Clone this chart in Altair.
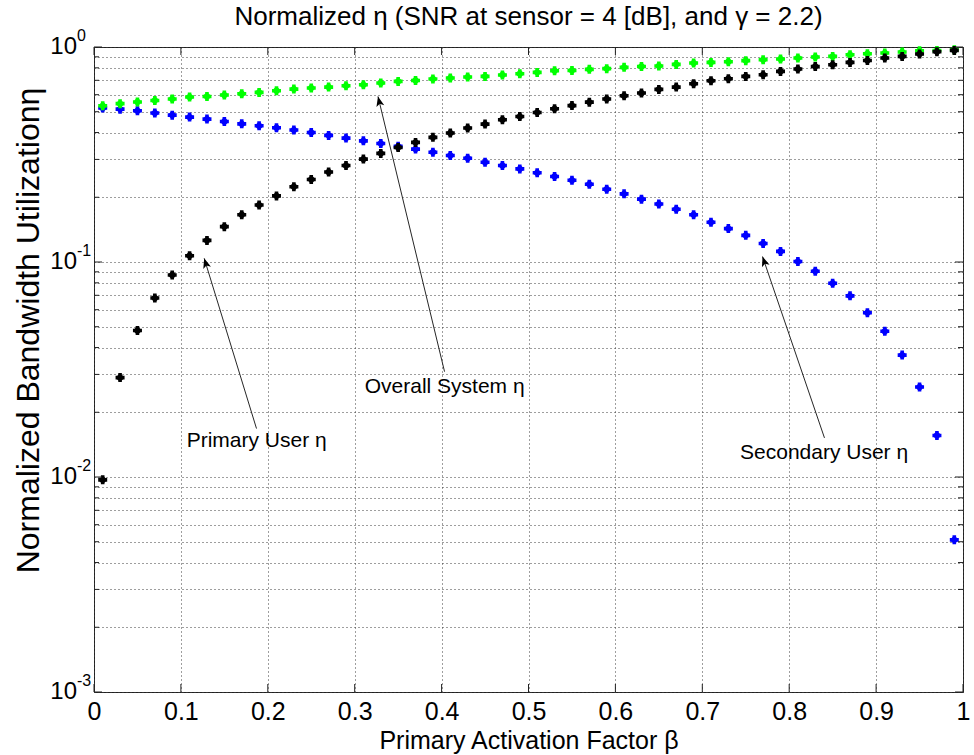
import math
import pandas as pd
import altair as alt

W, H = 869, 645
FONT = "Liberation Sans"

beta = [0.01, 0.03, 0.05, 0.07, 0.09, 0.11, 0.13, 0.15, 0.17, 0.19,
        0.21, 0.23, 0.25, 0.27, 0.29, 0.31, 0.33, 0.35, 0.37, 0.39,
        0.41, 0.43, 0.45, 0.47, 0.49, 0.51, 0.53, 0.55, 0.57, 0.59,
        0.61, 0.63, 0.65, 0.67, 0.69, 0.71, 0.73, 0.75, 0.77, 0.79,
        0.81, 0.83, 0.85, 0.87, 0.89, 0.91, 0.93, 0.95, 0.97, 0.99]

primary = [0.0097, 0.029, 0.048, 0.068, 0.087, 0.107, 0.126, 0.146, 0.166, 0.184,
           0.203, 0.224, 0.242, 0.262, 0.281, 0.301, 0.320, 0.341, 0.360, 0.380,
           0.398, 0.420, 0.438, 0.459, 0.475, 0.496, 0.516, 0.534, 0.554, 0.573,
           0.593, 0.611, 0.635, 0.651, 0.675, 0.697, 0.712, 0.730, 0.743, 0.770,
           0.790, 0.812, 0.827, 0.848, 0.866, 0.889, 0.904, 0.928, 0.951, 0.964]

secondary = [0.520, 0.514, 0.505, 0.493, 0.482, 0.472, 0.462, 0.450, 0.439, 0.430,
             0.421, 0.411, 0.400, 0.388, 0.377, 0.366, 0.356, 0.345, 0.335, 0.324,
             0.313, 0.304, 0.291, 0.281, 0.271, 0.260, 0.250, 0.240, 0.230, 0.218,
             0.2075, 0.196, 0.186, 0.176, 0.166, 0.153, 0.143, 0.133, 0.122, 0.112,
             0.1005, 0.0906, 0.0796, 0.0696, 0.0581, 0.0476, 0.0369, 0.0262, 0.0156, 0.0051]

overall = [0.533, 0.545, 0.555, 0.564, 0.573, 0.585, 0.589, 0.598, 0.606, 0.615,
           0.626, 0.637, 0.645, 0.651, 0.660, 0.667, 0.680, 0.692, 0.699, 0.710,
           0.717, 0.725, 0.730, 0.741, 0.751, 0.762, 0.776, 0.778, 0.787, 0.793,
           0.804, 0.812, 0.816, 0.830, 0.842, 0.848, 0.854, 0.864, 0.873, 0.879,
           0.889, 0.898, 0.904, 0.921, 0.931, 0.938, 0.948, 0.961, 0.963, 0.971]

x_ticks = [0, 0.1, 0.2, 0.3, 0.4, 0.5, 0.6, 0.7, 0.8, 0.9, 1]
y_major = [0.001, 0.01, 0.1, 1]
y_major_exp = ["-3", "-2", "-1", "0"]
y_minor = [0.002, 0.003, 0.004, 0.005, 0.006, 0.007, 0.008, 0.009,
           0.02, 0.03, 0.04, 0.05, 0.06, 0.07, 0.08, 0.09,
           0.2, 0.3, 0.4, 0.5, 0.6, 0.7, 0.8, 0.9]

title_text = "Normalized η (SNR at sensor = 4 [dB], and γ = 2.2)"
x_title = "Primary Activation Factor β"
y_title = "Normalized Bandwidth Utilizationη"

# annotations (data coordinates)
ann_label = ["Primary User η", "Overall System η", "Secondary User η"]
ann_text_x = [0.1066, 0.3115, 0.7434]
ann_text_y = [0.0147, 0.0262, 0.0129]
arrow_tail_x = [0.187, 0.4034, 0.8406]
arrow_tail_y = [0.0168, 0.0309, 0.0152]
arrow_tip_x = [0.1268, 0.3268, 0.7693]
arrow_tip_y = [0.104, 0.589, 0.106]

series = [("Secondary User", secondary, "#0000ff"),
          ("Overall System", overall, "#00ff00"),
          ("Primary User", primary, "#000000")]

xs = alt.Scale(domain=[0, 1], nice=False, zero=False)
ys = alt.Scale(type="log", domain=[0.001, 1], nice=False)

grid_common = dict(grid=True, gridColor="#3c3c3c", gridDash=[1, 3], gridWidth=1,
                   gridOpacity=1, ticks=False, tickSize=0, domain=False)

x_axis = alt.Axis(values=x_ticks, format="~g", labelFont=FONT, labelFontSize=25,
                  labelColor="black", labelPadding=7, labelFlush=False, labelOverlap=False,
                  title=x_title, titleFont=FONT, titleFontSize=25, titleFontWeight="normal",
                  titleColor="black", titleBaseline="alphabetic", titleX=W / 2, titleY=56,
                  titleAlign="center", **grid_common)
y_axis = alt.Axis(values=y_major + y_minor, labels=False,
                  title=y_title, titleFont=FONT, titleFontSize=32, titleFontWeight="normal",
                  titleColor="black", titleAngle=270, titleX=-56, titleY=283,
                  titleBaseline="alphabetic", titleAlign="center", **grid_common)


def X(field):
    return alt.X(field, scale=xs, axis=x_axis)


def Y(field):
    return alt.Y(field, scale=ys, axis=y_axis)


layers = []
for name, vals, col in series:
    d = pd.DataFrame({"beta": beta, "eta": vals})
    main = alt.Chart(d).mark_point(shape="cross", filled=True, size=81, opacity=1, color=col).encode(
        x=X("beta:Q"), y=Y("eta:Q"))
    diag = alt.Chart(d).mark_point(shape="cross", filled=True, size=42, opacity=1, color=col,
                                   angle=45).encode(x=X("beta:Q"), y=Y("eta:Q"))
    layers += [main, diag]

# inward tick marks (box style)
maj_df = pd.DataFrame({"v": y_major})
min_df = pd.DataFrame({"v": y_minor})
xt_df = pd.DataFrame({"v": x_ticks})
tick_col = "#202020"
for dfv, ln in [(maj_df, 8), (min_df, 5)]:
    layers.append(alt.Chart(dfv).mark_rule(color=tick_col).encode(
        y=Y("v:Q"), x=alt.value(0), x2=alt.value(ln)))
    layers.append(alt.Chart(dfv).mark_rule(color=tick_col).encode(
        y=Y("v:Q"), x=alt.value(W - ln), x2=alt.value(W)))
layers.append(alt.Chart(xt_df).mark_rule(color=tick_col).encode(
    x=X("v:Q"), y=alt.value(0), y2=alt.value(8)))
layers.append(alt.Chart(xt_df).mark_rule(color=tick_col).encode(
    x=X("v:Q"), y=alt.value(H - 8), y2=alt.value(H)))

# y tick labels 10^k
lab_df = pd.DataFrame({"v": y_major, "e": y_major_exp, "b": ["10"] * len(y_major)})
layers.append(alt.Chart(lab_df).mark_text(align="right", baseline="middle", font=FONT,
                                          fontSize=24, color="black").encode(
    x=alt.value(-17), y=Y("v:Q"), text="b:N"))
layers.append(alt.Chart(lab_df).mark_text(align="left", baseline="middle", font=FONT,
                                          fontSize=16, color="black", dy=-11).encode(
    x=alt.value(-17), y=Y("v:Q"), text="e:N"))

# annotations
def px(xv):
    return xv * W


def py(yv):
    return -math.log10(yv) / 3 * H


angles = []
for tx, ty, hx, hy in zip(arrow_tail_x, arrow_tail_y, arrow_tip_x, arrow_tip_y):
    dx = px(hx) - px(tx)
    dy = py(hy) - py(ty)
    angles.append(math.degrees(math.atan2(dx, -dy)) % 360)

ann_df = pd.DataFrame({"label": ann_label, "tx": ann_text_x, "ty": ann_text_y,
                       "ax": arrow_tail_x, "ay": arrow_tail_y,
                       "hx": arrow_tip_x, "hy": arrow_tip_y, "ang": angles})

layers.append(alt.Chart(ann_df).mark_rule(color="#262626", strokeWidth=1).encode(
    x=X("ax:Q"), y=Y("ay:Q"), x2="hx:Q", y2="hy:Q"))
layers.append(alt.Chart(ann_df).mark_point(shape="M0,0 L0.8,2 L0,1.5 L-0.8,2 Z", filled=True,
                                           size=100, opacity=1, color="black").encode(
    x=X("hx:Q"), y=Y("hy:Q"), angle=alt.Angle("ang:Q", scale=None)))
layers.append(alt.Chart(ann_df).mark_text(align="left", baseline="middle", font=FONT,
                                          fontSize=21, color="black").encode(
    x=X("tx:Q"), y=Y("ty:Q"), text="label:N"))

# chart title
layers.append(alt.Chart(pd.DataFrame({"t": [title_text]})).mark_text(
    align="center", baseline="alphabetic", font=FONT, fontSize=26, color="black").encode(
    text="t:N", x=alt.value(W / 2), y=alt.value(-22)))

chart = alt.layer(*layers).properties(
    width=W, height=H,
    autosize=alt.AutoSizeParams(type="none"),
    padding={"left": 94, "top": 47, "right": 11, "bottom": 63},
    background="white",
).configure_view(stroke="#202020", strokeWidth=1)

chart.save("out.html", embed_options={"renderer": "svg", "actions": False})
